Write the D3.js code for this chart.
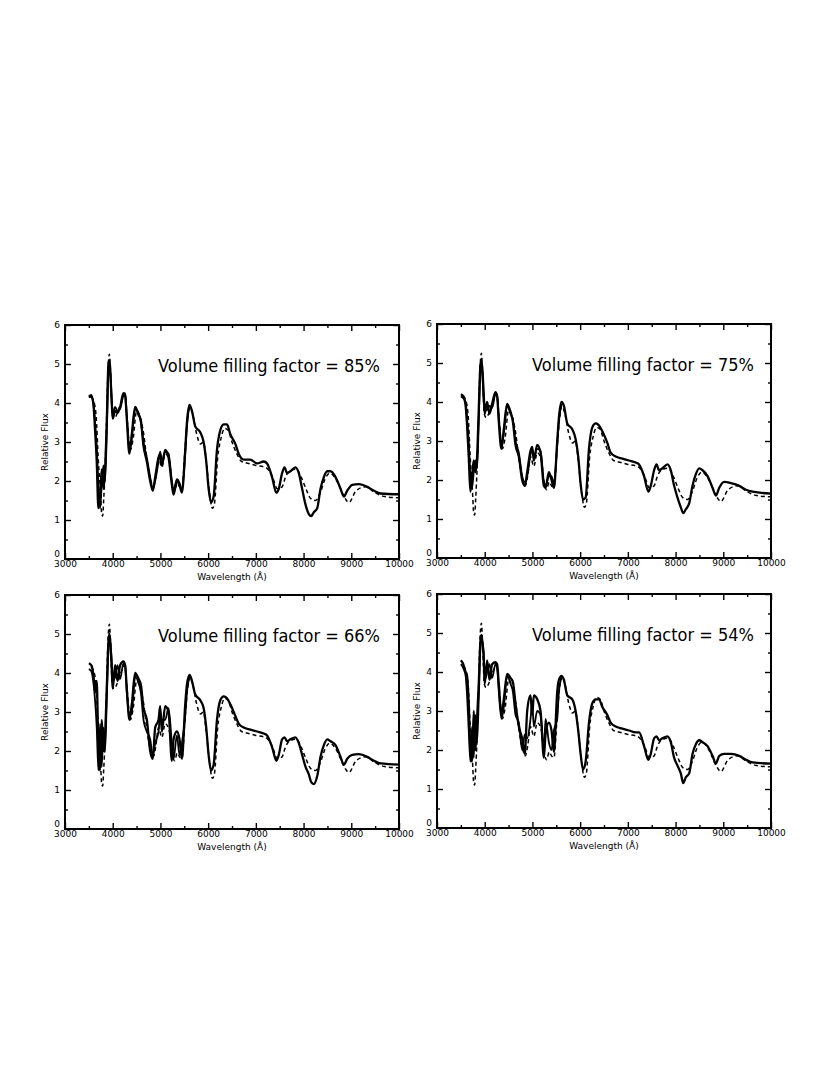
<!DOCTYPE html>
<html>
<head>
<meta charset="utf-8">
<script src="https://cdn.jsdelivr.net/npm/d3@7"></script>
<style>
body { margin: 0; background: #fff; }
text { font-family: "DejaVu Sans", Verdana, sans-serif; fill: #000; }
</style>
</head>
<body>
<div id="chart"></div>
<script>
// wavelength grid (Angstrom) shared by the model spectra
var wave = [3500,3550,3600,3630,3665,3700,3735,3770,3805,3840,
            3875,3910,3930,3980,4000,4050,4100,4155,4225,4260,
            4295,4350,4400,4470,4540,4590,4645,4715,4785,4840,
            4890,4960,4995,5030,5100,5170,5240,5275,5345,5400,
            5450,5520,5555,5610,5660,5730,5835,5905,5960,6010,
            6060,6115,6185,6255,6325,6395,6465,6570,6640,6745,
            6885,7025,7165,7235,7340,7430,7480,7550,7600,7655,
            7725,7830,7900,7970,8040,8110,8160,8215,8285,8355,
            8425,8495,8565,8670,8775,8845,8915,9020,9160,9335,
            9475,9615,10000];

// model flux, one array per filling factor
var flux85 = [4.16,4.2,3.9,3.3,2.5,1.3,1.6,2.3,1.8,2.3,
              3.5,5.0,5.1,4.0,3.6,3.8,3.75,3.9,4.25,4.2,
              3.6,2.7,3.2,3.9,3.7,3.55,2.9,2.5,2.0,1.75,
              2.1,2.6,2.7,2.4,2.8,2.6,1.9,1.65,2.0,1.9,
              1.7,2.8,3.5,3.95,3.8,3.4,3.25,3.0,2.5,1.8,
              1.45,1.6,2.8,3.3,3.45,3.45,3.2,2.95,2.7,2.55,
              2.55,2.45,2.5,2.45,2.1,1.7,1.8,2.2,2.35,2.2,
              2.25,2.35,2.2,1.8,1.4,1.15,1.1,1.2,1.3,1.8,
              2.1,2.25,2.25,2.1,1.8,1.6,1.75,1.9,1.92,1.85,
              1.75,1.68,1.66];
var flux75 = [4.2,4.15,3.9,3.4,2.6,1.7,2.1,2.5,2.2,2.6,
              3.8,4.95,5.05,4.2,3.7,4.0,3.7,3.95,4.25,4.15,
              3.5,2.8,3.3,3.95,3.75,3.5,2.9,2.6,2.0,1.85,
              2.2,2.75,2.85,2.5,2.9,2.7,1.85,1.8,2.2,2.0,
              1.8,3.0,3.6,4.0,3.9,3.45,3.3,3.05,2.6,1.9,
              1.5,1.55,2.8,3.35,3.45,3.4,3.25,2.95,2.7,2.6,
              2.55,2.5,2.45,2.4,2.1,1.7,1.85,2.25,2.4,2.25,
              2.3,2.4,2.25,1.85,1.55,1.3,1.15,1.25,1.4,1.85,
              2.15,2.3,2.25,2.1,1.8,1.6,1.8,1.95,1.92,1.85,
              1.75,1.7,1.65];
var flux66 = [4.25,4.2,3.9,3.5,3.8,2.0,1.5,2.8,2.0,2.4,
              3.6,4.8,5.0,4.1,3.6,4.2,3.8,4.2,4.3,4.2,
              3.6,2.8,3.2,4.0,3.85,3.7,3.1,2.8,2.0,1.8,
              2.6,2.8,3.15,2.5,3.15,3.0,1.75,2.3,2.5,2.3,
              1.8,3.2,3.7,3.95,3.8,3.45,3.3,3.1,2.6,1.9,
              1.5,1.65,2.8,3.3,3.4,3.35,3.2,2.9,2.7,2.6,
              2.55,2.5,2.45,2.4,2.1,1.75,1.9,2.3,2.35,2.25,
              2.3,2.35,2.2,1.9,1.6,1.4,1.2,1.15,1.35,1.85,
              2.15,2.3,2.25,2.15,1.85,1.65,1.8,1.9,1.92,1.85,
              1.75,1.68,1.65];
var flux54 = [4.3,4.2,4.0,3.9,3.2,2.0,1.7,3.0,2.0,2.8,
              3.7,4.8,4.95,4.3,3.7,4.3,3.8,4.2,4.25,4.2,
              3.7,2.9,3.3,3.95,3.85,3.75,3.2,2.6,2.3,1.9,
              3.0,3.4,2.9,3.4,3.3,3.0,1.8,2.4,2.7,2.5,
              1.95,3.5,3.8,3.9,3.8,3.4,3.3,3.0,2.5,1.9,
              1.5,1.7,2.7,3.2,3.3,3.3,3.1,2.9,2.7,2.6,
              2.55,2.5,2.45,2.45,2.1,1.75,1.9,2.3,2.35,2.25,
              2.3,2.35,2.2,1.8,1.6,1.4,1.15,1.3,1.4,1.9,
              2.15,2.25,2.2,2.1,1.85,1.65,1.85,1.9,1.9,1.85,
              1.75,1.68,1.65];

// second model realisation, blue part only (first 44 grid points, 3500-5610)
var alt85 = [4.15,4.15,4.0,3.5,2.9,1.9,1.3,1.9,2.4,2.0,
             3.2,4.8,5.05,4.1,3.7,3.9,3.8,3.85,4.2,4.25,
             3.7,2.8,3.1,3.85,3.75,3.5,3.0,2.6,2.1,1.8,
             2.0,2.5,2.75,2.5,2.75,2.7,2.0,1.75,2.05,1.95,
             1.75,2.7,3.4,3.95];
var alt75 = [4.15,4.1,4.0,3.6,3.0,2.1,1.8,2.2,2.5,2.3,
             3.5,4.85,5.1,4.0,3.8,3.8,3.9,3.85,4.2,4.2,
             3.6,2.9,3.2,3.9,3.7,3.55,3.0,2.7,2.1,1.95,
             2.1,2.65,2.8,2.6,2.8,2.75,1.95,1.85,2.1,2.1,
             1.9,2.9,3.5,3.95];
var alt66 = [4.1,4.05,3.7,3.3,2.6,1.5,2.7,1.6,2.6,2.0,
             3.3,4.6,4.9,4.3,3.8,3.9,4.2,3.85,4.25,4.2,
             3.5,2.9,3.0,3.9,3.75,3.5,2.8,2.5,2.3,1.9,
             2.2,2.5,2.9,2.8,2.8,3.1,2.2,1.8,2.4,1.9,
             2.2,2.9,3.5,3.9];
var alt54 = [4.2,4.1,3.9,3.4,2.5,1.7,2.6,1.8,2.9,2.2,
             3.3,4.6,4.85,4.5,3.8,4.0,4.2,3.85,4.2,4.1,
             3.5,2.8,3.1,3.9,3.7,3.5,2.9,2.7,2.0,2.4,
             2.3,2.8,3.2,2.6,3.0,2.9,2.0,2.8,2.2,2.0,
             2.5,2.8,3.5,3.85];

// observed spectrum (dashed), same in every panel
var obsWave = [3550,3600,3650,3700,3740,3770,3790,3810,3840,3870,
               3900,3930,3960,3990,4030,4100,4200,4250,4300,4370,
               4430,4500,4570,4650,4720,4800,4850,4900,4960,5030,
               5100,5180,5250,5300,5350,5400,5450,5520,5570,5620,
               5680,5760,5840,5900,5960,6020,6090,6130,6200,6270,
               6350,6420,6500,6600,6700,6850,7000,7200,7350,7450,
               7550,7620,7700,7850,7950,8050,8150,8250,8350,8450,
               8550,8700,8850,8950,9100,9300,9500,9700,10000];
var obsFlux = [4.15,4.05,3.7,2.5,1.8,1.15,1.1,1.5,2.3,3.5,
               4.8,5.25,4.6,3.7,3.6,3.75,4.1,4.2,3.6,2.8,
               3.1,3.8,3.65,3.2,2.5,2.0,1.85,2.1,2.6,2.35,
               2.7,2.55,1.9,1.75,1.95,1.85,1.8,2.9,3.6,3.9,
               3.7,3.2,2.95,3.0,2.5,1.8,1.3,1.4,2.6,3.1,
               3.35,3.3,3.0,2.7,2.5,2.45,2.4,2.35,2.1,1.8,
               1.85,2.1,2.25,2.3,2.1,1.8,1.55,1.5,1.7,2.05,
               2.2,2.0,1.6,1.45,1.75,1.85,1.7,1.6,1.57];

var labels = ["Volume filling factor = 85%", "Volume filling factor = 75%",
              "Volume filling factor = 66%", "Volume filling factor = 54%"];
var xTicks = [3000,4000,5000,6000,7000,8000,9000,10000];
var xMinor = [3500,4500,5500,6500,7500,8500,9500];
var yTicks = [0,1,2,3,4,5,6];
var yMinor = [0.5,1.5,2.5,3.5,4.5,5.5];

var mains = [flux85, flux75, flux66, flux54];
var alts  = [alt85, alt75, alt66, alt54];
var origins = [[65,325],[437,324],[65,595],[437,594]]; // frame top-left
var width = 334, height = 234;

var svg = d3.select("#chart").append("svg")
    .attr("width", 830)
    .attr("height", 1074);

var x = d3.scaleLinear().domain([3000,10000]).range([0,width]);
var y = d3.scaleLinear().domain([0,6]).range([height,0]);

var line = d3.line()
    .x(function (d) { return x(d[0]); })
    .y(function (d) { return y(d[1]); })
    .curve(d3.curveMonotoneX);

function pairs(w, f) {
  return f.map(function (v, i) { return [w[i], v]; });
}

function addAxis(g, axis, tx, ty) {
  var a = g.append("g").attr("transform", "translate(" + tx + "," + ty + ")").call(axis);
  a.select(".domain").remove();
  a.selectAll(".tick line").attr("stroke", "#000").attr("stroke-width", 1.4);
  return a;
}

mains.forEach(function (flux, p) {
  var g = svg.append("g")
      .attr("transform", "translate(" + origins[p][0] + "," + origins[p][1] + ")");

  g.append("defs").append("clipPath").attr("id", "clip" + p)
    .append("rect").attr("width", width).attr("height", height);

  var plot = g.append("g").attr("clip-path", "url(#clip" + p + ")");

  // observed, dashed
  plot.append("path")
      .datum(pairs(obsWave, obsFlux))
      .attr("fill", "none")
      .attr("stroke", "#000")
      .attr("stroke-width", 1.5)
      .attr("stroke-dasharray", "4,3")
      .attr("d", line);

  // models, solid
  plot.append("path")
      .datum(pairs(wave, alts[p]))
      .attr("fill", "none")
      .attr("stroke", "#000")
      .attr("stroke-width", 1.8)
      .attr("d", line);

  plot.append("path")
      .datum(pairs(wave, flux))
      .attr("fill", "none")
      .attr("stroke", "#000")
      .attr("stroke-width", 2.3)
      .attr("d", line);

  // axes, ticks inward on all four sides
  var bx = addAxis(g, d3.axisBottom(x).tickValues(xTicks).tickSize(-6).tickPadding(2)
      .tickFormat(d3.format("d")), 0, height);
  bx.selectAll("text").style("font-size", "9px");
  addAxis(g, d3.axisBottom(x).tickValues(xMinor).tickSize(-3).tickFormat(""), 0, height);
  addAxis(g, d3.axisTop(x).tickValues(xTicks).tickSize(-6).tickFormat(""), 0, 0);
  addAxis(g, d3.axisTop(x).tickValues(xMinor).tickSize(-3).tickFormat(""), 0, 0);

  var ly = addAxis(g, d3.axisLeft(y).tickValues(yTicks).tickSize(-6).tickPadding(5)
      .tickFormat(d3.format("d")), 0, 0);
  ly.selectAll("text").style("font-size", "9px")
    .attr("dy", function (d) { return d === 0 ? "-0.25em" : "0.32em"; });
  addAxis(g, d3.axisLeft(y).tickValues(yMinor).tickSize(-3).tickFormat(""), 0, 0);
  addAxis(g, d3.axisRight(y).tickValues(yTicks).tickSize(-6).tickFormat(""), width, 0);
  addAxis(g, d3.axisRight(y).tickValues(yMinor).tickSize(-3).tickFormat(""), width, 0);

  g.append("rect")
      .attr("width", width)
      .attr("height", height)
      .attr("fill", "none")
      .attr("stroke", "#000")
      .attr("stroke-width", 2);

  g.append("text")
      .attr("x", width / 2)
      .attr("y", height + 21)
      .attr("text-anchor", "middle")
      .style("font-size", "9px")
      .text("Wavelength (Å)");

  g.append("text")
      .attr("transform", "translate(-17," + (height / 2) + ") rotate(-90)")
      .attr("text-anchor", "middle")
      .style("font-size", "9px")
      .text("Relative Flux");

  g.append("text")
      .attr("x", p % 2 === 0 ? 93 : 95)
      .attr("y", 47)
      .attr("textLength", 222)
      .attr("lengthAdjust", "spacingAndGlyphs")
      .style("font-size", "17px")
      .text(labels[p]);
});
</script>
</body>
</html>
